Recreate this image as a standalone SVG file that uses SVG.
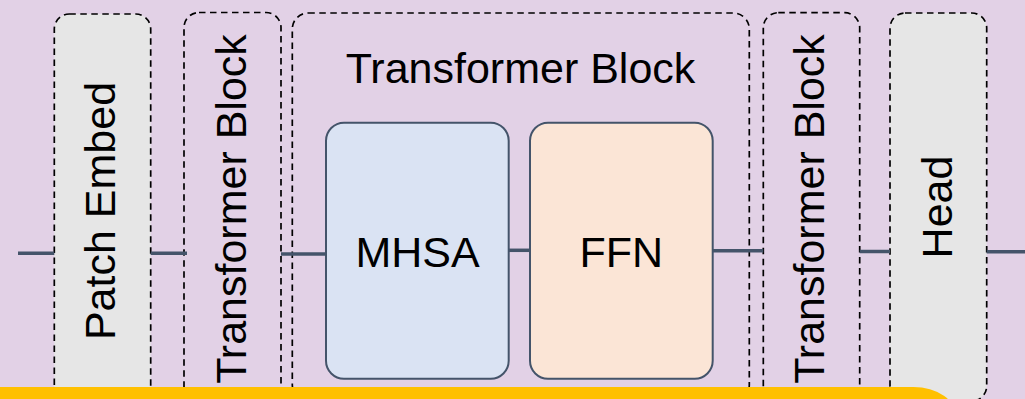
<svg xmlns="http://www.w3.org/2000/svg" width="1025" height="399" viewBox="0 0 1025 399">
  <style>
    .dash { stroke: #000; stroke-width: 1.7; stroke-dasharray: 6.5 4.5; }
    .gray { fill: #E6E6E6; }
    .open { fill: none; }
    .inner { stroke: #44546A; stroke-width: 2; }
    .lbl { font-family: "Liberation Sans", Arial, sans-serif; font-size: 43px; fill: #000; text-anchor: middle; }
    .conn { stroke: #44546A; stroke-width: 3.5; fill: none; }
  </style>
  <rect x="0" y="0" width="1025" height="399" fill="#E2D1E6"/>

  <g id="patch-embed">
    <rect x="54.3" y="14" width="96.4" height="387" rx="15" class="gray dash"/>
    <text class="lbl" transform="translate(115,211) rotate(-90)">Patch Embed</text>
  </g>

  <g id="transformer-block-1">
    <rect x="184" y="12.5" width="97" height="388.5" rx="15" class="open dash"/>
    <text class="lbl" transform="translate(246,209) rotate(-90)">Transformer Block</text>
  </g>

  <g id="transformer-block-main">
    <rect x="292.3" y="13" width="457" height="388" rx="16" class="open dash"/>
    <text class="lbl" x="520.5" y="83">Transformer Block</text>
  </g>

  <g id="mhsa">
    <rect x="326" y="122.7" width="182.7" height="256" rx="18" fill="#DAE3F3" class="inner"/>
    <text class="lbl" x="417.5" y="267">MHSA</text>
  </g>

  <g id="ffn">
    <rect x="530" y="122.7" width="182.7" height="256" rx="18" fill="#FBE5D6" class="inner"/>
    <text class="lbl" x="621.3" y="267">FFN</text>
  </g>

  <g id="transformer-block-2">
    <rect x="763.3" y="12.7" width="96.4" height="388.3" rx="15" class="open dash"/>
    <text class="lbl" transform="translate(824,209) rotate(-90)">Transformer Block</text>
  </g>

  <g id="head">
    <rect x="890" y="13" width="96.7" height="388" rx="15" class="gray dash"/>
    <text class="lbl" transform="translate(952,207) rotate(-90)">Head</text>
  </g>

  <g id="connectors">
    <line x1="18" y1="253.3" x2="54.3" y2="253.3" class="conn"/>
    <line x1="150.7" y1="253.3" x2="187" y2="253.3" class="conn"/>
    <line x1="281" y1="254" x2="326" y2="254" class="conn"/>
    <line x1="508.7" y1="250.3" x2="530" y2="250.3" class="conn"/>
    <line x1="712.7" y1="250.7" x2="763.3" y2="250.7" class="conn"/>
    <line x1="859.7" y1="251.5" x2="890" y2="251.5" class="conn"/>
    <line x1="986.7" y1="251.7" x2="1025" y2="251.7" class="conn"/>
  </g>

  <g id="callout">
    <rect x="-50" y="387" width="1006.5" height="60" rx="43" fill="#FFC000"/>
  </g>
</svg>
